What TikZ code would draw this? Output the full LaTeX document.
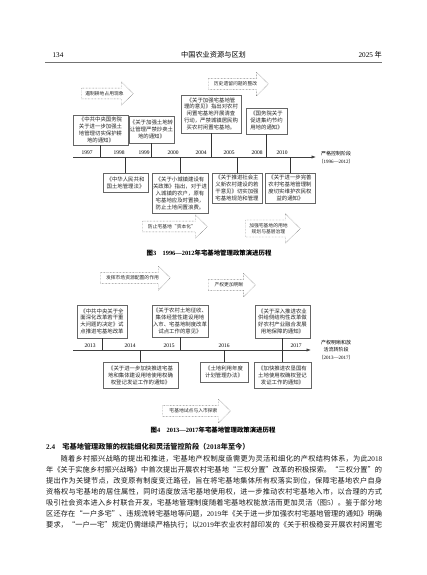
\documentclass[tikz,border=0pt]{standalone}
\usepackage{fontspec}
\setmainfont{Noto Sans CJK SC}
\newfontfamily\latfont{Liberation Serif}
\usetikzlibrary{arrows.meta,shapes.arrows,shadows}
\XeTeXlinebreaklocale "zh"
\XeTeXlinebreakskip=0pt plus 1pt
\newcommand{\jline}[1]{\parbox{336pt}{\parfillskip=0pt\relax #1}}

\begin{document}
\begin{tikzpicture}[x=1pt, y=-1pt,
    evt/.style={draw=black!60, line width=0.4pt, fill=white, align=center, inner sep=1pt,
        font=\fontsize{5.4}{6.9}\selectfont, text=black!85,
        drop shadow={shadow xshift=0.9pt, shadow yshift=-0.9pt, fill=black!55, opacity=0.9}},
    flow/.style={single arrow, draw=black!70, densely dotted, line width=0.45pt,
        single arrow head extend=6.5pt, single arrow tip angle=90, anchor=tail,
        inner xsep=1.5pt, inner ysep=3pt, align=center, text=black!85,
        font=\fontsize{4.8}{6}\selectfont},
    axis/.style={draw=black!75, line width=0.6pt, -{Latex[length=4.5pt,width=3.2pt]}},
    tick/.style={draw=black!80, line width=0.9pt},
    yr/.style={font=\latfont\fontsize{5.5}{6}\selectfont, inner sep=0.5pt},
    stage/.style={anchor=west, align=center, inner sep=0pt, font=\fontsize{5}{7.6}\selectfont},
    figcap/.style={font=\bfseries\fontsize{6.4}{8}\selectfont},
    hdr/.style={font=\fontsize{7.2}{9}\selectfont, inner sep=0pt},
    txt/.style={anchor=west, inner sep=0pt, text=black!90, font=\fontsize{7.2}{11}\selectfont}]
    \useasboundingbox (0,0) rectangle (427,575);

    \node[hdr] (pg) at (58,55) {\latfont 134};
    \node[hdr] (jn) at (213.5,55) {中国农业资源与区划};
    \node[hdr, anchor=east] (vol) at (382,55) {{\latfont 2025} 年};
    \coordinate (rl) at (45,62.5);
    \coordinate (rr) at (382,62.5);
    \draw[black!55, line width=0.8pt] (rl) -- (rr);

    % 1996--2012
    \node[flow, minimum height=52pt] (f1) at (81,93.5) {遏制耕地占用现象};
    \node[flow, minimum height=60pt] (f2) at (208,84) {历史遗留问题的整改};
    \coordinate (ax1) at (73,157);
    \coordinate (ax1e) at (316,157);
    \draw[axis] (ax1) -- (ax1e);
    \foreach \yr/\x in {1997/87,1998/119,1999/144,2000/173,2004/201,2005/229,2008/257,2010/282}
        \node[yr] (y\yr) at (\x,152.3) {\yr};

    \node[evt, anchor=south, minimum width=55pt, minimum height=30pt] (a1997) at (100.5,145)
        {《中共中央国务院\\关于进一步加强土\\地管理切实保护耕\\地的通知》};
    \node[evt, anchor=south, minimum width=45pt, minimum height=27pt] (a1999) at (151.5,143)
        {《关于加强土地转\\让管理严禁炒卖土\\地的通知》};
    \node[evt, anchor=south, minimum width=60pt, minimum height=38pt] (a2004) at (211,133)
        {《关于加强宅基地管\\理的意见》指出对农村\\闲置宅基地开展清查\\行动，严禁城镇居民购\\买农村闲置宅基地。};
    \node[evt, anchor=south, minimum width=41pt, minimum height=26pt] (a2008) at (266.5,134)
        {《国务院关于\\促进集约节约\\用地的通知》};
    \node[evt, anchor=north, minimum width=45pt, minimum height=19pt] (b1998) at (125.5,173)
        {《中华人民共和\\国土地管理法》};
    \node[evt, anchor=north, minimum width=56pt, minimum height=40pt] (b2000) at (180,173)
        {《关于小城镇建设有\\关政策》指出，对于进\\入城镇的农户，原有\\宅基地应及时置换，\\防止土地闲置浪费。};
    \node[evt, anchor=north, minimum width=50pt, minimum height=30pt] (b2005) at (237,173)
        {《关于推进社会主\\义新农村建设的若\\干意见》切实加强\\宅基地规范和管理};
    \node[evt, anchor=north, minimum width=50pt, minimum height=30pt] (b2010) at (290,173)
        {《关于进一步完善\\农村宅基地管理制\\度切实维护农民权\\益的通知》};
    \foreach \b in {a1997,a1999,a2004,a2008}
        \draw[tick] (\b.south) -- (\b.south |- ax1);
    \foreach \b in {b1998,b2000,b2005,b2010}
        \draw[tick] (\b.north |- ax1) -- (\b.north);
    \node[stage] (st1) at (318.5,157.5) {严格控制阶段\\（{\latfont 1996—2012}）};

    \node[flow, minimum height=65pt] (f3) at (142,226.5) {防止宅基地“资本化”};
    \node[flow, minimum height=55pt] (f4) at (245,228.5) {加强宅基地的用地\\规划与基层治理};
    \node[figcap] (cap3) at (209,253) {图{\latfont 3}\quad{\latfont 1996—2012}年宅基地管理政策演进历程};

    % 2013--2017
    \node[flow, minimum height=70pt] (f5) at (100,278) {发挥市场资源配置的作用};
    \node[flow, minimum height=47pt] (f6) at (208,285) {产权更加明晰};
    \coordinate (ax2) at (73,350);
    \coordinate (ax2e) at (311,350);
    \draw[axis] (ax2) -- (ax2e);
    \foreach \yr/\x in {2013/90,2014/130,2015/169,2016/224,2017/296}
        \node[yr] (z\yr) at (\x,345.3) {\yr};

    \node[evt, anchor=south, minimum width=50pt, minimum height=33pt] (c2013) at (102,338)
        {《中共中央关于全\\面深化改革若干重\\大问题的决定》试\\点推进宅基地改革};
    \node[evt, anchor=south, minimum width=56pt, minimum height=32pt] (c2015) at (180,337)
        {《关于农村土地征收、\\集体经营性建设用地\\入市、宅基地制度改革\\试点工作的意见》};
    \node[evt, anchor=south, minimum width=55pt, minimum height=33pt] (c2017) at (282.5,338)
        {《关于深入推进农业\\供给侧结构性改革做\\好农村产业融合发展\\用地保障的通知》};
    \node[evt, anchor=north, minimum width=75pt, minimum height=26pt] (d2014) at (140.5,362)
        {《关于进一步加快推进宅基\\地和集体建设用地使用权确\\权登记发证工作的通知》};
    \node[evt, anchor=north, minimum width=48pt, minimum height=20pt] (d2016) at (224,362)
        {《土地利用年度\\计划管理办法》};
    \node[evt, anchor=north, minimum width=57pt, minimum height=26pt] (d2017) at (282.5,362)
        {《加快推进农垦国有\\土地使用权确权登记\\发证工作的通知》};
    \foreach \b in {c2013,c2015,c2017}
        \draw[tick] (\b.south) -- (\b.south |- ax2);
    \foreach \b in {d2014,d2016,d2017}
        \draw[tick] (\b.north |- ax2) -- (\b.north);
    \node[stage] (st2) at (318.5,350) {产权明晰和放\\活流转阶段\\（{\latfont 2013—2017}）};

    \node[flow, minimum height=68pt] (f7) at (162,411) {宅基地试点与入市探索};
    \node[figcap] (cap4) at (213,430) {图{\latfont 4}\quad{\latfont 2013—2017}年宅基地管理政策演进历程};

    % 2.4
    \node[txt, font=\bfseries\fontsize{7.2}{9}\selectfont] (sec) at (46,447)
        {{\latfont 2.4}\quad 宅基地管理政策的权能细化和灵活管控阶段（{\latfont 2018}年至今）};
    \node[txt] (p1) at (46,459) {\jline{\hspace*{14.4pt}随着乡村振兴战略的提出和推进，宅基地产权制度亟需更为灵活和细化的产权结构体系，为此{\latfont 2018}}};
    \node[txt] (p2) at (46,470) {\jline{年《关于实施乡村振兴战略》中首次提出开展农村宅基地“三权分置”改革的积极探索。“三权分置”的}};
    \node[txt] (p3) at (46,481) {\jline{提出作为关键节点，改变原有制度变迁路径，旨在将宅基地集体所有权落实到位，保障宅基地农户自身}};
    \node[txt] (p4) at (46,492) {\jline{资格权与宅基地的居住属性，同时适度放活宅基地使用权，进一步推动农村宅基地入市，以合理的方式}};
    \node[txt] (p5) at (46,503) {\jline{吸引社会资本进入乡村联合开发，宅基地管理制度随着宅基地权能放活而更加灵活（图{\latfont 5}）。鉴于部分地}};
    \node[txt] (p6) at (46,514) {\jline{区还存在“一户多宅”、违规流转宅基地等问题，{\latfont 2019}年《关于进一步加强农村宅基地管理的通知》明确}};
    \node[txt] (p7) at (46,525) {\jline{要求，“一户一宅”规定仍需继续严格执行；以{\latfont 2019}年农业农村部印发的《关于积极稳妥开展农村闲置宅}};
\end{tikzpicture}
\end{document}
